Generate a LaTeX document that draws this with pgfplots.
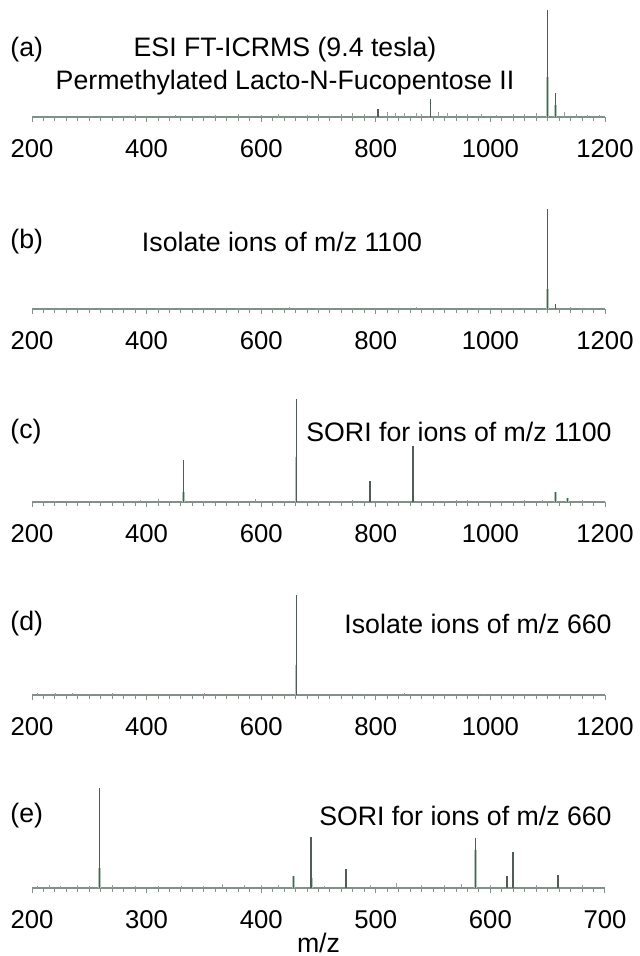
\documentclass[border=0pt]{standalone}
\usepackage{fontspec}
\setmainfont{Liberation Sans}
\usepackage{pgfplots}
\pgfplotsset{compat=1.18}

\definecolor{peak}{RGB}{80,92,84}
\definecolor{peaklight}{RGB}{180,198,188}
\definecolor{baseln}{RGB}{130,145,135}
\newcommand\fs{\fontsize{13.4}{16}\selectfont}
\newcommand\ts{\fontsize{12.9}{15}\selectfont}

\pgfplotsset{
  spec/.style={
    scale only axis, width=286.5bp, height=55bp,
    anchor=south west,
    axis x line=bottom, axis y line=none,
    x axis line style={-, baseln, line width=0.8bp},
    xmin=200, xmax=1200, ymin=0, ymax=110,
    xtick={200,400,...,1200},
    xticklabels={200,400,600,800,1000,1200},
    minor x tick num=9,
    tick align=outside,
    major tick length=2.5bp, minor tick length=1.8bp,
    tick style={baseln, line width=0.5bp},
    xticklabel style={font=\ts, text=black, yshift=-5.5bp},
    clip=false,
  },
  pk/.style={ycomb, mark=none, peak, line width=0.6bp},
  pkbase/.style={ycomb, mark=none, peaklight, line width=1.3bp},
  noise/.style={ycomb, mark=none, peak!60!white, line width=0.4bp},
}

\begin{document}
\begin{tikzpicture}
\useasboundingbox (0,0) rectangle (320bp,478bp);

% (a) full ESI spectrum
\begin{axis}[spec, at={(16bp,419.5bp)}]
  \addplot[noise] coordinates {(230,1) (300,1) (380,2) (450,2) (520,2) (560,3) (600,2) (630,3)
    (680,2) (700,3) (740,3) (760,4) (780,3) (820,5) (835,4) (850,4) (870,4) (880,3) (910,5)
    (925,4) (940,3) (960,3) (985,3) (1010,2) (1040,3) (1060,3) (1080,4) (1130,5) (1150,3) (1170,2) (1190,2)};
  \addplot[pkbase] coordinates {(1100,40) (1114,12)};
  \addplot[pk] coordinates {(804,8) (895,18) (1100,107) (1114,24)};
\end{axis}

% (b) isolation of m/z 1100
\begin{axis}[spec, at={(16bp,323.5bp)}]
  \addplot[noise] coordinates {(250,1) (420,1) (560,1) (650,2) (700,1) (870,2) (1140,2) (1170,1)};
  \addplot[pkbase] coordinates {(1100,20)};
  \addplot[pk] coordinates {(1100,100) (1114,5)};
\end{axis}

% (c) SORI of m/z 1100
\begin{axis}[spec, at={(16bp,227bp)}]
  \addplot[noise] coordinates {(240,1) (330,1) (390,2) (420,3) (500,1) (590,3) (700,1) (760,2)
    (820,1) (940,2) (960,2) (1060,2) (1090,2) (1160,2)};
  \addplot[pkbase] coordinates {(464,10) (661,45) (790,20) (865,35) (1114,10) (1135,4)};
  \addplot[pk] coordinates {(464,42) (661,103) (790,21) (865,56) (1114,10) (1135,4)};
\end{axis}

% (d) isolation of m/z 660
\begin{axis}[spec, at={(16bp,130.5bp)}]
  \addplot[noise] coordinates {(210,2) (240,2) (270,2) (300,1) (340,2) (500,2) (780,1) (850,2) (990,1)};
  \addplot[pkbase] coordinates {(661,30)};
  \addplot[pk] coordinates {(661,100)};
\end{axis}

% (e) SORI of m/z 660
\begin{axis}[spec, at={(16bp,34bp)},
    xmin=200, xmax=700,
    xtick={200,300,...,700},
    xticklabels={200,300,400,500,600,700}]
  \addplot[noise] coordinates {(205,2) (215,3) (225,2) (240,3) (250,2) (270,3) (290,2) (310,2)
    (330,2) (350,2) (366,4) (385,3) (400,3) (415,3) (455,2) (495,3) (518,5) (540,3) (560,3)
    (575,4) (600,3) (640,3) (680,3)};
  \addplot[pkbase] coordinates {(259,20) (428,12) (444,10) (474,8) (587,38) (614.5,12) (619.7,36) (659,12)};
  \addplot[pk] coordinates {(259,100) (428,12) (443.5,51) (474,19) (587,50) (614.5,12) (619.7,36) (659,13)};
\end{axis}

% panel captions
\begin{scope}[every node/.style={font=\fs, inner sep=0pt}]
  \node[anchor=west] at (5bp,453bp) {(a)};
  \node at (142.5bp,453bp) {ESI FT-ICRMS (9.4 tesla)};
  \node at (142.5bp,436.5bp) {Permethylated Lacto-N-Fucopentose II};
  \node[anchor=west] at (5bp,357bp) {(b)};
  \node at (141bp,357bp) {Isolate ions of m/z 1100};
  \node[anchor=west] at (5bp,262bp) {(c)};
  \node[anchor=east] at (306bp,262bp) {SORI for ions of m/z 1100};
  \node[anchor=west] at (5bp,166bp) {(d)};
  \node[anchor=east] at (306bp,166bp) {Isolate ions of m/z 660};
  \node[anchor=west] at (5bp,70bp) {(e)};
  \node[anchor=east] at (306bp,70bp) {SORI for ions of m/z 660};
  \node at (159.25bp,6.5bp) {m/z};
\end{scope}
\end{tikzpicture}
\end{document}
